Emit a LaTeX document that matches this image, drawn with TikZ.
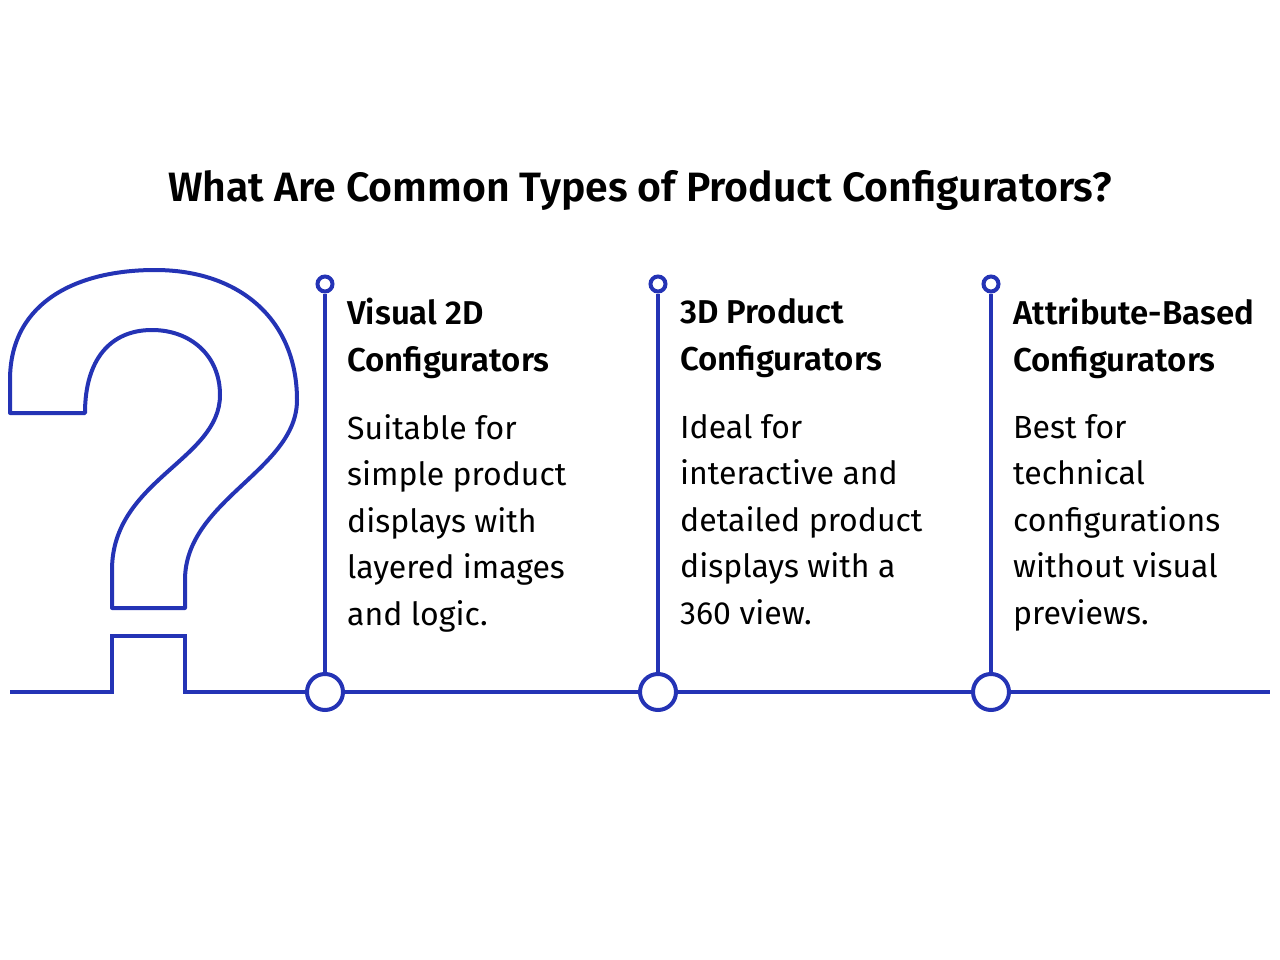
\documentclass[tikz,border=0pt]{standalone}
\usepackage{fontspec}
\setmainfont{Fira Sans}
\definecolor{qblue}{HTML}{2433B5}
\begin{document}
\begin{tikzpicture}[x=1pt,y=-1pt,
  ln/.style={draw=qblue,line width=4pt},
  head/.style={anchor=north west,align=left,font=\fontsize{33}{47}\selectfont\fontspec{Fira Sans SemiBold},inner sep=0pt},
  body/.style={anchor=north west,align=left,font=\fontsize{32}{46.5}\selectfont\fontspec{Fira Sans},inner sep=0pt}]
\useasboundingbox (0,0) rectangle (1280,960);
\node[font=\fontsize{41}{44}\selectfont\fontspec{Fira Sans SemiBold}] (title) at (640,190) {What Are Common Types of Product Configurators?};
\draw[ln,line join=round] (10,413) -- (10,380) .. controls (10,300) and (80,270) .. (155,270) .. controls (240,270) and (297,320) .. (297,400) .. controls (297,470) and (185,500) .. (185,580) -- (185,608) -- (112,608) -- (112,570) .. controls (112,480) and (220,460) .. (220,395) .. controls (220,355) and (190,330) .. (152,330) .. controls (110,330) and (85,360) .. (85,413) -- cycle;
\coordinate (l0) at (10,692);
\coordinate (r0) at (1270,692);
\draw[ln] (l0) -- (112,692) -- (112,636) -- (185,636) -- (185,692) -- (r0);
\foreach \x/\n/\h/\b in {325/a/{Visual 2D\\Configurators}/{Suitable for\\simple product\\displays with\\layered images\\and logic.},
  658/b/{3D Product\\Configurators}/{Ideal for\\interactive and\\detailed product\\displays with a\\360 view.},
  991/c/{Attribute-Based\\Configurators}/{Best for\\technical\\configurations\\without visual\\previews.}}{
  \node[circle,ln,fill=white,minimum size=36pt,inner sep=0pt] (big\n) at (\x,692) {};
  \node[circle,ln,fill=white,minimum size=15pt,inner sep=0pt] (sm\n) at (\x,284) {};
  \draw[ln] (sm\n) -- (big\n);
  \node[head] (h\n) at (\x+22,298) {\h};
  \node[body] (t\n) at (\x+22,414) {\b};
}
\end{tikzpicture}
\end{document}
